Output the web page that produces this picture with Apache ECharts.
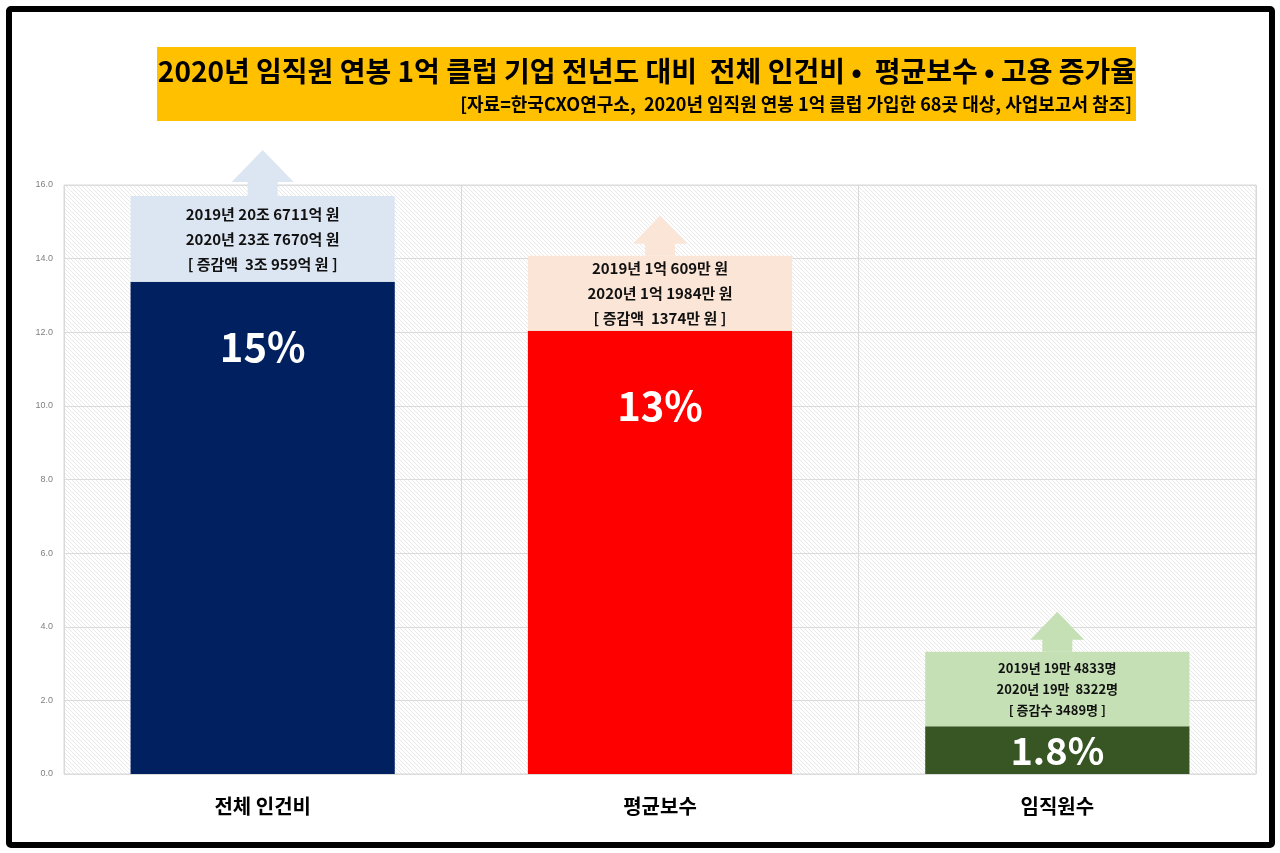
<!DOCTYPE html>
<html>
<head>
<meta charset="utf-8">
<script src="https://cdn.jsdelivr.net/npm/echarts@6/dist/echarts.min.js"></script>
<style>
  html, body { margin: 0; padding: 0; background: #fff; }
  #chart { width: 1280px; height: 853px; }
</style>
</head>
<body>
<div id="chart"></div>
<script>
var categories = ['전체 인건비', '평균보수', '임직원수'];
// 증가율 막대 높이(축 값)
var rateValues = [13.37, 12.04, 1.30];
// 위에 쌓인 설명 박스 높이(축 값)
var boxValues = [2.33, 2.04, 2.02];
var rateLabels = ['15%', '13%', '1.8%'];
var detailLines = [
    ['2019년 20조 6711억 원', '2020년 23조 7670억 원', '[ 증감액  3조 959억 원 ]'],
    ['2019년 1억 609만 원', '2020년 1억 1984만 원', '[ 증감액  1374만 원 ]'],
    ['2019년 19만 4833명', '2020년 19만  8322명', '[ 증감수 3489명 ]']
];
var yTicks = [0, 2, 4, 6, 8, 10, 12, 14, 16];

var darkColors = ['#002060', '#ff0000', '#375623'];
var lightColors = ['#dce6f2', '#fbe5d6', '#c5e0b4'];
var titleText = '2020년 임직원 연봉 1억 클럽 기업 전년도 대비  전체 인건비 •  평균보수 • 고용 증가율';
var subText = '[자료=한국CXO연구소,  2020년 임직원 연봉 1억 클럽 가입한 68곳 대상, 사업보고서 참조]';

var FONT = '"Noto Sans CJK KR", "Noto Sans", sans-serif';

// 빗금 배경 패턴 (오른쪽 아래로 내려가는 사선)
var pat = document.createElement('canvas');
pat.width = 4;
pat.height = 4;
var pctx = pat.getContext('2d');
pctx.fillStyle = '#ffffff';
pctx.fillRect(0, 0, 4, 4);
pctx.strokeStyle = '#e9e9e9';
pctx.lineWidth = 1;
pctx.beginPath();
pctx.moveTo(0, 0);
pctx.lineTo(4, 4);
pctx.stroke();

var chart = echarts.init(document.getElementById('chart'));

var percentOffsets = [45, 55, 0];

var option = {
    animation: false,
    backgroundColor: '#ffffff',
    grid: {
        left: 64,
        right: 24,
        top: 185,
        bottom: 79,
        show: true,
        borderColor: '#d9d9d9',
        borderWidth: 1,
        backgroundColor: {image: pat, repeat: 'repeat'}
    },
    xAxis: {
        type: 'category',
        data: categories,
        axisLine: {show: false},
        axisTick: {show: false},
        splitLine: {show: true, lineStyle: {color: '#d9d9d9', width: 1}},
        axisLabel: {
            color: '#000',
            fontSize: 20,
            fontWeight: 'bold',
            fontFamily: FONT,
            margin: 22
        }
    },
    yAxis: {
        type: 'value',
        min: 0,
        max: 16,
        interval: 2,
        axisLine: {show: false},
        axisTick: {show: false},
        splitLine: {lineStyle: {color: '#dcdcdc', width: 1}},
        axisLabel: {
            color: '#7f7f7f',
            fontSize: 9,
            fontFamily: 'Arial, sans-serif',
            margin: 11,
            formatter: function (v) {
                return yTicks.indexOf(v) >= 0 ? v.toFixed(1) : '';
            }
        }
    },
    series: [
        {
            name: 'rate',
            type: 'bar',
            stack: 'all',
            barWidth: '66.5%',
            data: rateValues.map(function (v, i) {
                return {
                    value: v,
                    itemStyle: {color: darkColors[i]},
                    label: {
                        show: true,
                        position: i === 2 ? 'inside' : 'insideTop',
                        distance: percentOffsets[i],
                        formatter: rateLabels[i],
                        color: '#fff',
                        fontSize: i === 2 ? 38 : 40,
                        fontWeight: 'bold',
                        fontFamily: FONT
                    }
                };
            })
        },
        {
            name: 'box',
            type: 'bar',
            stack: 'all',
            barWidth: '66.5%',
            data: boxValues.map(function (v, i) {
                return {
                    value: v,
                    itemStyle: {color: lightColors[i]},
                    label: {
                        show: true,
                        position: 'inside',
                        formatter: detailLines[i].join('\n'),
                        color: '#111',
                        fontSize: i === 2 ? 13 : 15,
                        lineHeight: i === 2 ? 21 : 25,
                        fontWeight: 'bold',
                        fontFamily: FONT
                    }
                };
            })
        },
        {
            name: 'arrow',
            type: 'custom',
            silent: true,
            data: rateValues.map(function (v, i) {
                return [i, v + boxValues[i]];
            }),
            renderItem: function (params, api) {
                var p = api.coord([api.value(0), api.value(1)]);
                var x = p[0], y = p[1];
                var big = params.dataIndex === 0;
                var hw = big ? 31 : 27;   // 머리 반폭
                var hh = big ? 32 : 28;   // 머리 높이
                var sw = 15;              // 몸통 반폭
                var sh = big ? 14 : 12;   // 몸통 높이
                return {
                    type: 'polygon',
                    shape: {
                        points: [
                            [x - sw, y], [x - sw, y - sh], [x - hw, y - sh],
                            [x, y - sh - hh],
                            [x + hw, y - sh], [x + sw, y - sh], [x + sw, y]
                        ]
                    },
                    style: {fill: lightColors[params.dataIndex]}
                };
            }
        }
    ],
    graphic: [
        {
            type: 'rect',
            shape: {x: 9, y: 9, width: 1263, height: 836, r: 2},
            style: {fill: 'none', stroke: '#000', lineWidth: 6},
            z: 100
        },
        {
            type: 'rect',
            shape: {x: 157, y: 47, width: 979, height: 74},
            style: {fill: '#ffc000'},
            z: 10
        },
        {
            type: 'text',
            x: 647,
            y: 71,
            z: 11,
            style: {
                text: titleText,
                fill: '#000',
                font: 'bold 28px ' + FONT,
                textAlign: 'center',
                textVerticalAlign: 'middle'
            }
        },
        {
            type: 'text',
            x: 1132,
            y: 104,
            z: 11,
            style: {
                text: subText,
                fill: '#000',
                font: 'bold 18px ' + FONT,
                textAlign: 'right',
                textVerticalAlign: 'middle'
            }
        }
    ]
};

chart.setOption(option);
</script>
</body>
</html>
